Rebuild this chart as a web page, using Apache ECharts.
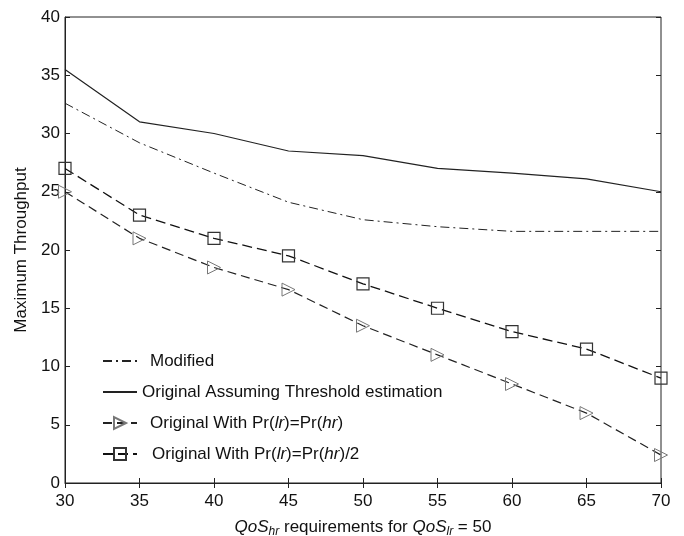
<!DOCTYPE html>
<html>
<head>
<meta charset="utf-8">
<script src="https://cdn.jsdelivr.net/npm/echarts@6/dist/echarts.min.js"></script>
<style>
  html, body { margin: 0; padding: 0; background: #fff; }
  #chart { width: 684px; height: 536px; }
</style>
</head>
<body>
<div id="chart"></div>
<script>
var qosHr = [30, 35, 40, 45, 50, 55, 60, 65, 70]
var modified = [32.6, 29.2, 26.6, 24.1, 22.6, 22.0, 21.6, 21.6, 21.6]
var thresholdEst = [35.5, 31, 30, 28.5, 28.1, 27, 26.6, 26.1, 25]
var prEqual = [25, 21, 18.5, 16.6, 13.5, 11, 8.5, 6, 2.4]
var prHalf = [27, 23, 21, 19.5, 17.1, 15, 13, 11.5, 9]

function pairs(ys) {
  var out = []
  for (var i = 0; i < qosHr.length; i++) {
    out.push([qosHr[i], ys[i]])
  }
  return out
}

var font = 'Liberation Sans, Arial, sans-serif'
var chart = echarts.init(document.getElementById('chart'))

chart.setOption({
  animation: false,
  backgroundColor: '#fff',
  grid: {
    left: 65,
    right: 23,
    top: 17,
    bottom: 53,
    outerBoundsMode: 'none',
    show: true,
    borderColor: '#222',
    borderWidth: 1
  },
  legend: {
    orient: 'vertical',
    left: 97,
    top: 347,
    itemWidth: 34,
    itemHeight: 15,
    itemGap: 13,
    textStyle: {
      fontFamily: font,
      fontSize: 17,
      lineHeight: 18,
      color: '#111',
      rich: {
        i: { fontStyle: 'italic', fontFamily: font, fontSize: 17, color: '#111' }
      }
    },
    formatter: function (name) {
      if (name === 'eq') return 'Original With Pr({i|lr})=Pr({i|hr})'
      if (name === 'half') return 'Original With Pr({i|lr})=Pr({i|hr})/2'
      return name
    },
    data: [
      { name: 'Modified', itemStyle: { opacity: 0 }, textStyle: { padding: [0, 0, 0, 8] } },
      { name: 'Original Assuming Threshold estimation', itemStyle: { opacity: 0 }, textStyle: { padding: [0, 0, 0, 0] } },
      { name: 'eq', textStyle: { padding: [0, 0, 0, 8] } },
      { name: 'half', textStyle: { padding: [0, 0, 0, 10] } }
    ]
  },
  xAxis: [
    {
      type: 'value',
      min: 30,
      max: 70,
      interval: 5,
      axisLine: { show: true, onZero: false, lineStyle: { color: '#222' } },
      axisTick: { inside: true, length: 5, lineStyle: { color: '#222' } },
      axisLabel: { margin: 10, fontFamily: font, fontSize: 17, color: '#111' },
      splitLine: { show: false },
      name: '{i|QoS}{s|hr} requirements for {i|QoS}{s|lr} = 50',
      nameLocation: 'middle',
      nameGap: 34,
      nameTextStyle: {
        fontFamily: font,
        fontSize: 17,
        color: '#111',
        rich: {
          i: { fontStyle: 'italic', fontFamily: font, fontSize: 17, color: '#111' },
          s: { fontStyle: 'italic', fontFamily: font, fontSize: 12, color: '#111', verticalAlign: 'bottom', padding: [9, 0, 0, 0] }
        }
      }
    },
    {
      type: 'value',
      position: 'top',
      min: 30,
      max: 70,
      interval: 5,
      axisLine: { show: false },
      axisTick: { inside: true, length: 5, lineStyle: { color: '#222' } },
      axisLabel: { show: false },
      splitLine: { show: false }
    }
  ],
  yAxis: [
    {
      type: 'value',
      min: 0,
      max: 40,
      interval: 5,
      axisLine: { show: true, lineStyle: { color: '#222' } },
      axisTick: { show: true, inside: true, length: 5, lineStyle: { color: '#222' } },
      axisLabel: { margin: 5, fontFamily: font, fontSize: 17, color: '#111' },
      splitLine: { show: false },
      name: 'Maximum Throughput',
      nameLocation: 'middle',
      nameGap: 34,
      nameTextStyle: { fontFamily: font, fontSize: 17, color: '#111' }
    },
    {
      type: 'value',
      position: 'right',
      min: 0,
      max: 40,
      interval: 5,
      axisLine: { show: false },
      axisTick: { show: true, inside: true, length: 5, lineStyle: { color: '#222' } },
      axisLabel: { show: false },
      splitLine: { show: false }
    }
  ],
  series: [
    {
      name: 'Modified',
      type: 'line',
      symbol: 'none',
      data: pairs(modified),
      lineStyle: { color: '#222', width: 1, type: [9, 4, 2, 4] },
      itemStyle: { color: '#222' }
    },
    {
      name: 'Original Assuming Threshold estimation',
      type: 'line',
      symbol: 'none',
      data: pairs(thresholdEst),
      lineStyle: { color: '#222', width: 1.2 },
      itemStyle: { color: '#222' }
    },
    {
      name: 'eq',
      type: 'line',
      data: pairs(prEqual),
      symbol: 'triangle',
      symbolSize: 13,
      symbolRotate: -90,
      lineStyle: { color: '#222', width: 1.2, type: [9, 5] },
      itemStyle: { color: 'rgba(255,255,255,0)', borderColor: '#777', borderWidth: 1 }
    },
    {
      name: 'half',
      type: 'line',
      data: pairs(prHalf),
      symbol: 'rect',
      symbolSize: 12,
      lineStyle: { color: '#111', width: 1.3, type: [10, 5] },
      itemStyle: { color: 'rgba(255,255,255,0)', borderColor: '#333', borderWidth: 1.2 }
    }
  ]
})
</script>
</body>
</html>
